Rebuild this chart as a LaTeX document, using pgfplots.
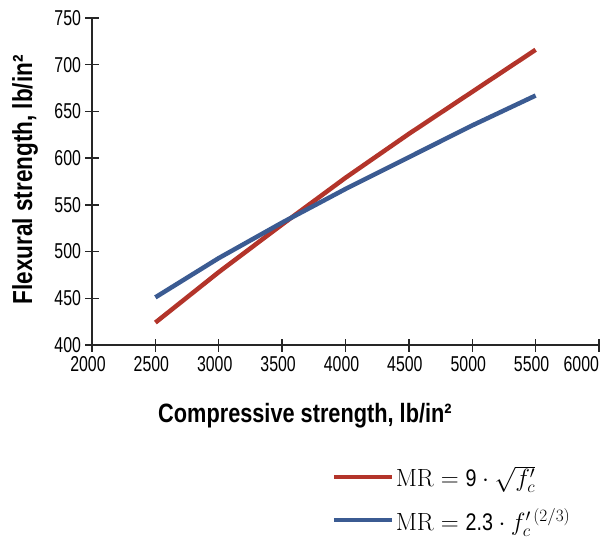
\documentclass[border=0pt]{standalone}
\usepackage[no-math]{fontspec}
\setmainfont{Liberation Sans}[FakeStretch=0.82]
\newfontfamily\tickfont{Liberation Sans}[FakeStretch=0.74]
\usepackage{pgfplots}
\pgfplotsset{compat=1.18}
\definecolor{cred}{HTML}{B3342A}
\definecolor{cblue}{HTML}{3B5B92}
\begin{document}
\begin{tikzpicture}
\begin{axis}[
  scale only axis,
  width=507pt, height=327pt,
  xmin=2000, xmax=6000, ymin=400, ymax=750,
  axis lines*=left,
  axis line style={line width=1.3pt, black!85},
  xtick={2000,2500,...,6000},
  xticklabels={2000,2500,3000,3500,4000,4500,5000,5500,\makebox[8pt][r]{6000}},
  ytick={400,450,...,750},
  /pgf/number format/assume math mode=true,
  /pgf/number format/1000 sep={},
  tick align=center,
  major tick length=13pt,
  tick style={line width=1.3pt, black!85},
  tick label style={font=\tickfont\fontsize{21.5}{25}\selectfont},
  xticklabel style={xshift=-4pt, yshift=-1pt},
  yticklabel style={xshift=-1pt},
  xlabel={\bfseries Compressive strength, lb/in²},
  ylabel={\bfseries Flexural strength, lb/in²},
  every axis x label/.style={at={(axis description cs:0.42,-0.2355)}, anchor=base, font=\fontsize{26.5}{30}\selectfont},
  every axis y label/.style={at={(axis description cs:-0.118,0.505)}, anchor=base, rotate=90, font=\fontsize{27.5}{30}\selectfont},
  legend style={at={(axis description cs:0.473,-0.365)}, anchor=north west, draw=none, fill=none, inner sep=0pt, outer sep=0pt, row sep=17pt, font=\fontsize{24}{28}\selectfont, /tikz/every even column/.append style={column sep=6pt}},
  legend cell align=left,
  legend image code/.code={\draw[#1,line width=4pt] (0pt,0pt) -- (58pt,0pt);},
]
\addplot[cred, line width=4.5pt] coordinates {
  (2500,424) (3000,478) (3500,529) (4000,579) (4500,626) (5000,671) (5500,716)
};
\addlegendentry{$\mathrm{MR}=\mbox{9}\cdot\sqrt{f_c'}$}
\addplot[cblue, line width=4.5pt] coordinates {
  (2500,451) (3000,493) (3500,531) (4000,567) (4500,601) (5000,635) (5500,667)
};
\addlegendentry{$\mathrm{MR}=\mbox{2.3}\cdot f_c^{\prime\,(2/3)}$}
\end{axis}
\pgfresetboundingbox
\path ([shift={(-92pt,-205pt)}]current axis.south west) rectangle ([shift={(6pt,18pt)}]current axis.north east);
\end{tikzpicture}
\end{document}
